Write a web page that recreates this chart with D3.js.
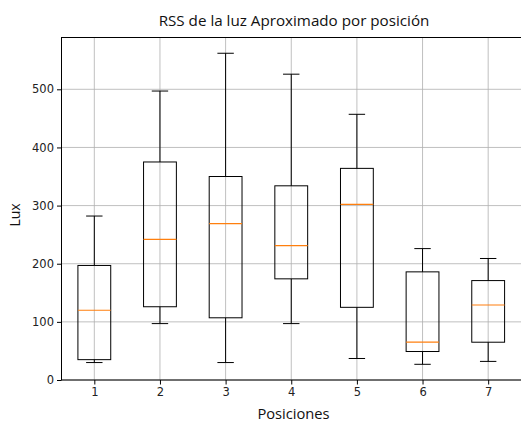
<!DOCTYPE html>
<html>
<head>
<meta charset="utf-8">
<script src="https://cdn.jsdelivr.net/npm/d3@7"></script>
<style>
  html, body { margin: 0; padding: 0; background: #fff; }
  svg { display: block; }
</style>
</head>
<body>
<svg id="chart" width="521" height="421"></svg>
<script>
// Posiciones on the x axis
const positions = [1, 2, 3, 4, 5, 6, 7];
// Five-number summaries per position (lux)
const whiskerLow  = [30, 97, 30, 97, 37, 27, 32];
const quartile1   = [35, 126, 107, 174, 125, 49, 65];
const medians     = [120, 242, 269, 231, 302, 65, 129];
const quartile3   = [197, 375, 350, 334, 364, 186, 171];
const whiskerHigh = [282, 497, 562, 526, 457, 226, 209];
const yTicks = [0, 100, 200, 300, 400, 500];

const svg = d3.select("#chart");
const x0 = 61.5, x1 = 521, yBase = 380, y1 = 37.5;

const x = d3.scaleLinear().domain([0.5, 7.5]).range([x0, 521]);
const y = d3.scaleLinear().domain([0, 500]).range([yBase, 89.3]);

const tickFont = "DejaVu Sans, sans-serif";
const labelFont = "Open Sans, sans-serif";

// grid
const grid = svg.append("g");
grid.selectAll("line.gx").data(positions).join("line")
  .attr("x1", d => x(d)).attr("x2", d => x(d))
  .attr("y1", y1).attr("y2", yBase)
  .attr("stroke", "#b0b0b0").attr("stroke-width", 0.8);
grid.selectAll("line.gy").data(yTicks).join("line")
  .attr("x1", x0).attr("x2", x1)
  .attr("y1", d => y(d)).attr("y2", d => y(d))
  .attr("stroke", "#b0b0b0").attr("stroke-width", 0.8);

// boxes
const data = positions.map((p, i) => ({
  p, lo: whiskerLow[i], q1: quartile1[i], med: medians[i], q3: quartile3[i], hi: whiskerHigh[i]
}));
const g = svg.append("g").attr("fill", "none");
const b = g.selectAll("g.box").data(data).join("g");
b.append("line").attr("x1", d => x(d.p)).attr("x2", d => x(d.p))
  .attr("y1", d => y(d.q1)).attr("y2", d => y(d.lo)).attr("stroke", "#000").attr("stroke-width", 1);
b.append("line").attr("x1", d => x(d.p)).attr("x2", d => x(d.p))
  .attr("y1", d => y(d.q3)).attr("y2", d => y(d.hi)).attr("stroke", "#000").attr("stroke-width", 1);
b.append("line").attr("x1", d => x(d.p - 0.125)).attr("x2", d => x(d.p + 0.125))
  .attr("y1", d => y(d.lo)).attr("y2", d => y(d.lo)).attr("stroke", "#000").attr("stroke-width", 1);
b.append("line").attr("x1", d => x(d.p - 0.125)).attr("x2", d => x(d.p + 0.125))
  .attr("y1", d => y(d.hi)).attr("y2", d => y(d.hi)).attr("stroke", "#000").attr("stroke-width", 1);
b.append("rect").attr("x", d => x(d.p - 0.25)).attr("width", x(1.5) - x(1))
  .attr("y", d => y(d.q3)).attr("height", d => y(d.q1) - y(d.q3))
  .attr("stroke", "#000").attr("stroke-width", 1);
b.append("line").attr("x1", d => x(d.p - 0.25)).attr("x2", d => x(d.p + 0.25))
  .attr("y1", d => y(d.med)).attr("y2", d => y(d.med)).attr("stroke", "#ff7f0e").attr("stroke-width", 1.2);

// frame
svg.append("rect").attr("x", x0).attr("y", y1).attr("width", x1 - x0 + 2).attr("height", yBase - y1)
  .attr("fill", "none").attr("stroke", "#000").attr("stroke-width", 1);

// axes
const xAxis = d3.axisBottom(x).tickValues(positions).tickSize(4.5).tickPadding(3.5).tickFormat(d3.format("d"));
const yAxis = d3.axisLeft(y).tickValues(yTicks).tickSize(4.5).tickPadding(3);
const gx = svg.append("g").attr("transform", `translate(0,${yBase})`).call(xAxis);
const gy = svg.append("g").attr("transform", `translate(${x0},0)`).call(yAxis);
[gx, gy].forEach(a => {
  a.select(".domain").remove();
  a.selectAll("text").attr("font-family", tickFont).attr("font-size", 11.5).attr("fill", "#222");
  a.selectAll("line").attr("stroke", "#000");
});

svg.append("text").attr("x", 294).attr("y", 26).attr("text-anchor", "middle")
  .attr("font-family", labelFont).attr("font-size", 15.2).attr("fill", "#111")
  .text("RSS de la luz Aproximado por posición");
svg.append("text").attr("x", 293.5).attr("y", 418.5).attr("text-anchor", "middle")
  .attr("font-family", labelFont).attr("font-size", 14.7).attr("fill", "#111")
  .text("Posiciones");
svg.append("text").attr("transform", "translate(20,215) rotate(-90)").attr("text-anchor", "middle")
  .attr("font-family", labelFont).attr("font-size", 14).attr("fill", "#111")
  .text("Lux");
</script>
</body>
</html>
